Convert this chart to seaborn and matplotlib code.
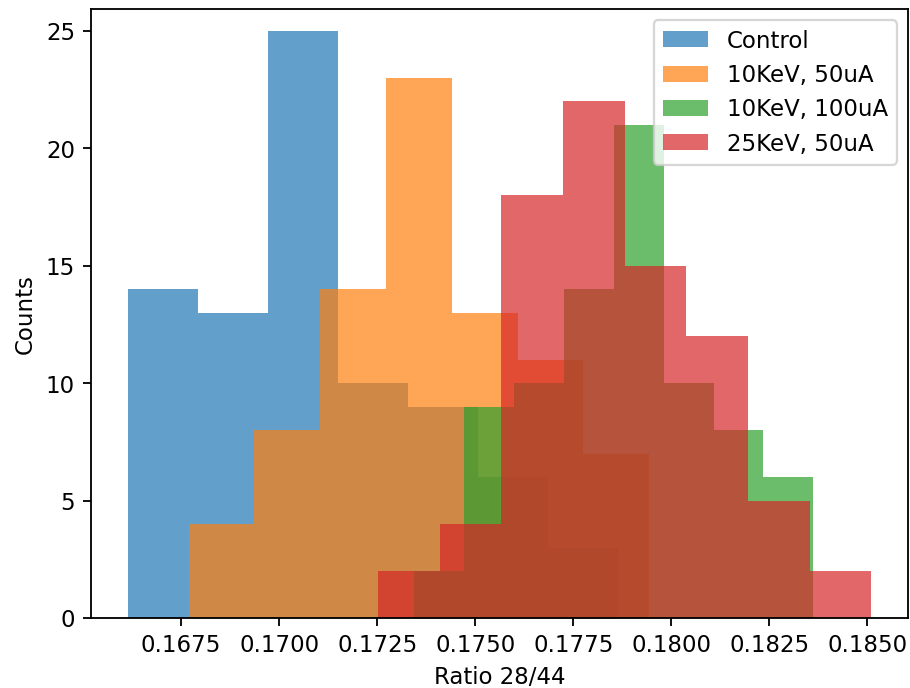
import numpy as np
import pandas as pd
import matplotlib
matplotlib.use("Agg")
import matplotlib.pyplot as plt
import seaborn as sns

# ---- data ----
labels = ["Control", "10KeV, 50uA", "10KeV, 100uA", "25KeV, 50uA"]
colors = ["#1f77b4", "#ff7f0e", "#2ca02c", "#d62728"]

control_edges = [0.16615, 0.16793, 0.16972, 0.17150, 0.17328, 0.17507, 0.17685, 0.17863]
control_counts = [14, 13, 25, 10, 9, 6, 3]

k10_50_edges = [0.16769, 0.16937, 0.17105, 0.17273, 0.17441, 0.17608, 0.17776, 0.17944]
k10_50_counts = [4, 8, 14, 23, 13, 11, 7]

k10_100_edges = [0.17344, 0.17471, 0.17599, 0.17726, 0.17853, 0.17981, 0.18108, 0.18235, 0.18362]
k10_100_counts = [2, 9, 10, 14, 21, 10, 8, 6]

k25_50_edges = [0.17252, 0.17409, 0.17567, 0.17724, 0.17881, 0.18038, 0.18196, 0.18353, 0.18510]
k25_50_counts = [2, 4, 18, 22, 15, 12, 5, 2]

x_ticks = [0.1675, 0.1700, 0.1725, 0.1750, 0.1775, 0.1800, 0.1825, 0.1850]
y_ticks = [0, 5, 10, 15, 20, 25]

series = [
    (control_edges, control_counts),
    (k10_50_edges, k10_50_counts),
    (k10_100_edges, k10_100_counts),
    (k25_50_edges, k25_50_counts),
]

DPI = 164.5
fig = plt.figure(figsize=(910.4 / DPI, 688.4 / DPI), dpi=DPI)
ax = fig.add_axes([91 / 910, (688 - 618) / 688, (908 - 91) / 910, (618 - 9) / 688])

for (edges, counts), lab, col in zip(series, labels, colors):
    e = [float(v) for v in edges]
    centers = [(a + b) / 2 for a, b in zip(e[:-1], e[1:])]
    df = pd.DataFrame({"ratio": centers, "count": [float(c) for c in counts]})
    sns.histplot(data=df, x="ratio", weights="count", bins=e, color=col, alpha=0.7,
                 linewidth=0, edgecolor="none", label=lab, ax=ax)

ax.set_xticks(x_ticks)
ax.set_xticklabels([f"{t:.4f}" for t in x_ticks])
ax.set_yticks(y_ticks)
ax.set_ylim(0, 25.95)
ax.set_xlabel("Ratio 28/44")
ax.set_ylabel("Counts")
ax.legend(loc="upper right")

fig.savefig("out.png", dpi=DPI)
